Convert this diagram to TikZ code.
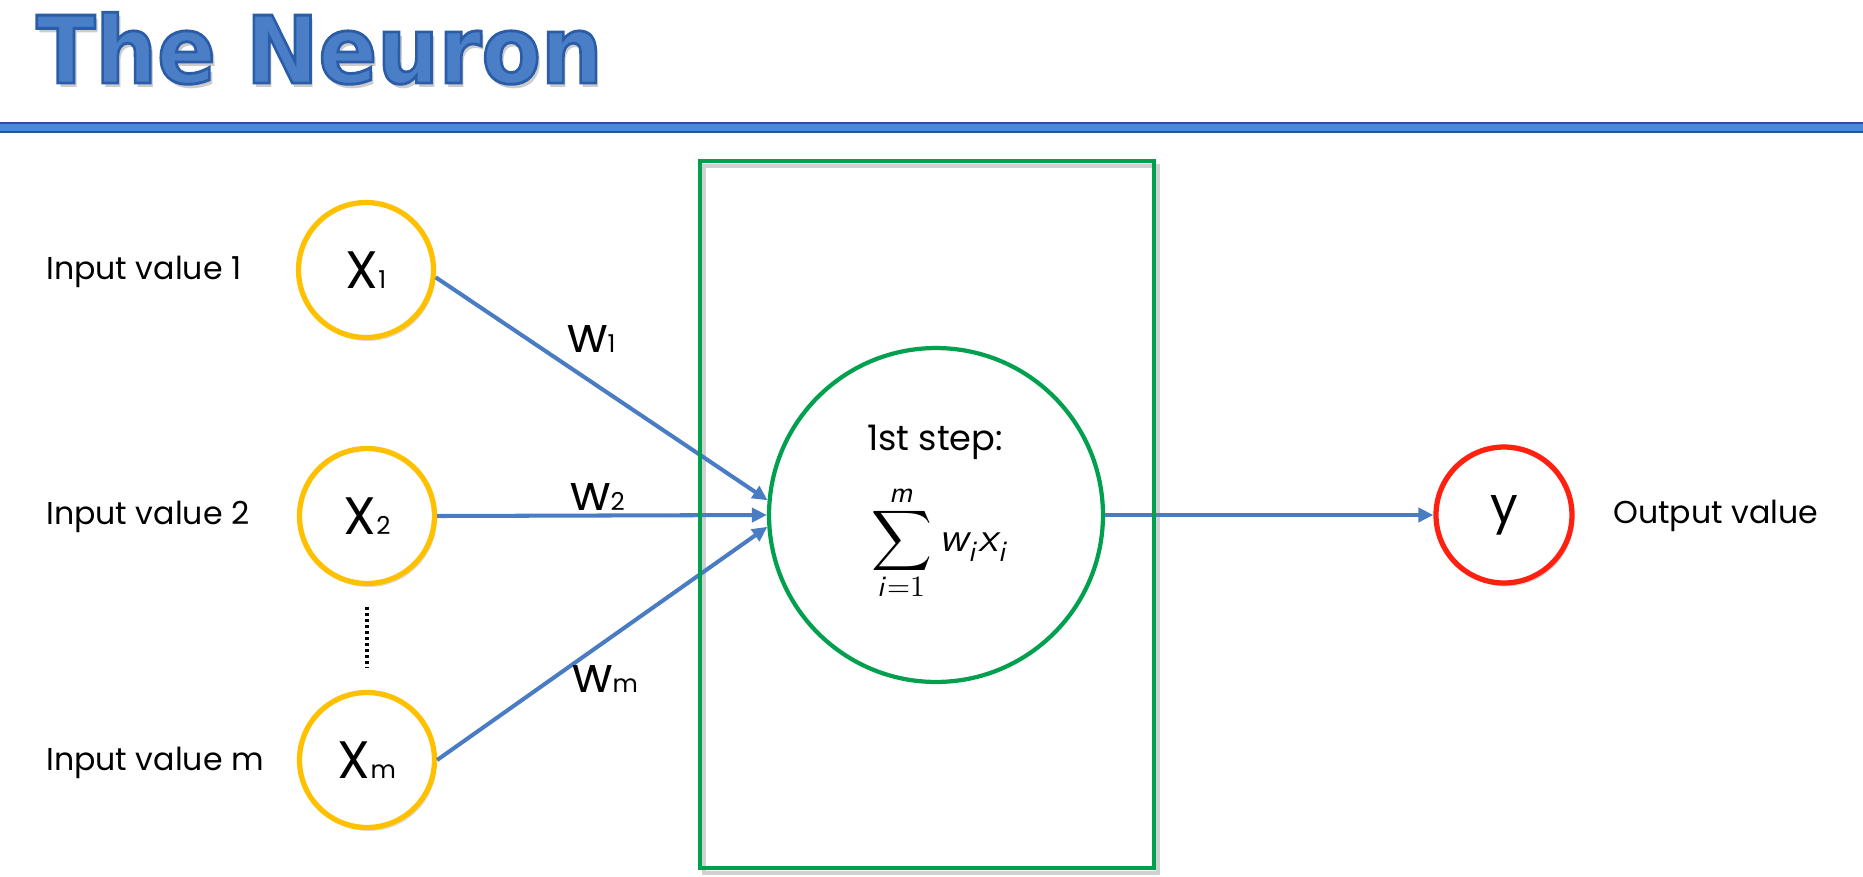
\documentclass[tikz,border=0pt]{standalone}
\usepackage{fontspec}
\usepackage{unicode-math}
\setmainfont{Poppins}
\setmathfont{Latin Modern Math}
\newfontfamily\titlefont{DejaVu Sans}
\usetikzlibrary{arrows.meta, shadows}

\definecolor{inputyellow}{HTML}{FFC000}
\definecolor{sumgreen}{HTML}{00A04F}
\definecolor{outred}{HTML}{FF2010}
\definecolor{linkblue}{HTML}{4A7CC4}
\definecolor{titlefill}{HTML}{4A7EC6}
\definecolor{barfill}{HTML}{4A88DA}
\definecolor{barline}{HTML}{2E5290}

\newcommand{\bigtxt}{\fontsize{30}{32}\selectfont}
\newcommand{\midtxt}{\fontsize{28}{30}\selectfont}
\newcommand{\subtxt}{\fontsize{14}{16}\selectfont}
\newcommand{\labeltxt}{\fontsize{18}{21}\selectfont}
% outlined title text (stroke + fill)
\newcommand{\outlined}[1]{\special{pdf:literal direct 2 Tr 1.6 w 0.165 0.361 0.659 RG}#1\special{pdf:literal direct 0 Tr}}

\begin{document}
\begin{tikzpicture}[x=0.02cm, y=-0.02cm,
    every node/.style={inner sep=0pt},
    softshadow/.style={drop shadow={shadow xshift=0.04cm, shadow yshift=-0.07cm,
                       opacity=0.22, fill=black!60}},
    inputnode/.style={circle, draw=inputyellow, line width=3pt, fill=white,
                      minimum size=2.7cm, softshadow},
    sumnode/.style={circle, draw=sumgreen, line width=2.4pt, fill=white,
                    minimum size=6.68cm},
    outnode/.style={circle, draw=outred, line width=3pt, fill=white,
                    minimum size=2.72cm, softshadow},
    link/.style={draw=linkblue, line width=2.3pt,
                 -{Triangle[length=0.3cm, width=0.28cm]}},
    sidelabel/.style={anchor=base west, font=\labeltxt}]
\useasboundingbox (0,0) rectangle (1863,876);

% title and bar
\node[anchor=base west, text=black!20] (titleshadow) at (39,87)
    {\scalebox{0.93}[1]{\titlefont\bfseries\fontsize{53}{56}\selectfont The Neuron}};
\node[anchor=base west, text=titlefill] (title) at (36,83)
    {\scalebox{0.93}[1]{\titlefont\bfseries\fontsize{53}{56}\selectfont\outlined{The Neuron}}};
\draw[barline, line width=1.1pt, fill=barfill] (-5,123) rectangle (1868,132);

% inputs
\node[inputnode] (x1) at (366,270) {\bigtxt X\subtxt 1};
\node[inputnode] (x2) at (367,516) {\bigtxt X\subtxt 2};
\node[inputnode] (xm) at (367,760) {\bigtxt X\subtxt m};
\draw[line width=0.07cm, dash pattern=on 0.05cm off 0.07cm] (367,607) -- (367,668);

\node[sidelabel] (in1) at (46,279) {Input value 1};
\node[sidelabel] (in2) at (46,524) {Input value 2};
\node[sidelabel] (inm) at (46,770) {Input value m};

% neuron
\draw[black!30, line width=2.3pt, opacity=0.6] (704,166) rectangle (1158,873);
\node[sumnode] (sum) at (936,515) {};
\node[anchor=base, font=\fontsize{20}{22}\selectfont] (steplabel) at (935,450) {1st step:};
\node (formula) at (940,543)
    {\fontsize{24}{28}\selectfont$\displaystyle\sum_{\symsfit{i}=1}^{\symsfit{m}} \symsfit{w}_{\symsfit{i}}\symsfit{x}_{\symsfit{i}}$};

% output
\node[outnode] (y) at (1504,515) {\midtxt y};
\node[sidelabel] (outlabel) at (1613,523) {Output value};

% connections
\draw[link] (x1.-6) -- (sum.175);
\draw[link] (x2.east) -- (sum.west);
\draw[link] (xm.east) -- (sum.184);
\draw[link] (sum.east) -- (y.west);

\node[anchor=base west] (w1) at (567,352) {\midtxt w\subtxt 1};
\node[anchor=base west] (w2) at (570,510) {\midtxt w\subtxt 2};
\node[anchor=base west] (wm) at (572,692) {\midtxt w\subtxt m};

\draw[sumgreen, line width=2.4pt] (700,161) rectangle (1154,868);
\end{tikzpicture}
\end{document}
